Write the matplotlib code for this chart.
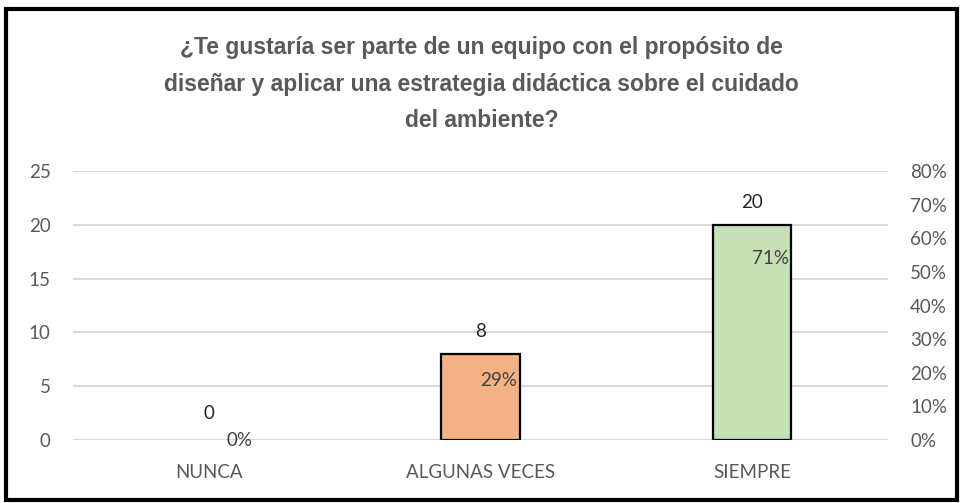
import matplotlib.pyplot as plt
from matplotlib.patches import Rectangle
from matplotlib.ticker import FuncFormatter

categories = ["NUNCA", "ALGUNAS VECES", "SIEMPRE"]
counts = [0, 8, 20]
percents = [0, 29, 71]
bar_colours = ["#ffffff", "#f4b183", "#c5e0b4"]

title = ("¿Te gustaría ser parte de un equipo con el propósito de\n"
         "diseñar y aplicar una estrategia didáctica sobre el cuidado\n"
         "del ambiente?")

grey = "#595959"
tick_font = "Lato"
fs = 13.5

fig = plt.figure(figsize=(9.63, 5.03), dpi=100)
ax = fig.add_axes([0.0758, 0.1252, 0.8462, 0.5348])

x = range(len(categories))
bars = ax.bar(x, counts, width=0.29, color=bar_colours, edgecolor="black", linewidth=1.6, zorder=3)
bars[0].set_visible(counts[0] != 0)

ax.set_xlim(-0.5, 2.5)
ax.set_ylim(0, 25)
ax.set_yticks(range(0, 26, 5))
ax.grid(axis="y", color="#d9d9d9", linewidth=1.5, zorder=0)
for s in ax.spines.values():
    s.set_visible(False)
ax.tick_params(length=0, labelsize=fs, labelcolor=grey)
ax.set_xticks(list(x))
ax.set_xticklabels(categories, fontfamily=tick_font)
for lab in ax.get_yticklabels():
    lab.set_fontfamily(tick_font)
ax.tick_params(axis="x", pad=17)
ax.tick_params(axis="y", pad=16)

ax2 = ax.twinx()
ax2.set_ylim(0, 0.8)
ax2.set_yticks([i / 10 for i in range(9)])
ax2.yaxis.set_major_formatter(FuncFormatter(lambda v, p: f"{v * 100:.0f}%"))
for s in ax2.spines.values():
    s.set_visible(False)
ax2.tick_params(length=0, labelsize=fs, labelcolor=grey, pad=16)
for lab in ax2.get_yticklabels():
    lab.set_fontfamily(tick_font)

# count labels above bars, percent labels inside (offset right)
pct_frac = [0.0, 0.69, 0.845]
for i, (c, p) in enumerate(zip(counts, percents)):
    ax.annotate(f"{c}", (i, c), xytext=(0, 10 if c else 13), textcoords="offset points",
                ha="center", va="bottom", fontsize=fs, color="#262626", fontfamily=tick_font)
    ax.annotate(f"{p}%", (i, c * pct_frac[i]), xytext=(13 if c else 22, 0), textcoords="offset points",
                ha="center", va="center", fontsize=fs, color="#404040", fontfamily=tick_font)

fig.text(0.5, 0.833, title, ha="center", va="center", fontsize=16.5, fontweight="bold",
         color=grey, fontfamily="Liberation Sans", linespacing=1.75)

fig.patches.append(Rectangle((0.006, 0.006), 0.988, 0.976, transform=fig.transFigure,
                             fill=False, edgecolor="black", linewidth=3))

fig.savefig("out.png", dpi=100)
